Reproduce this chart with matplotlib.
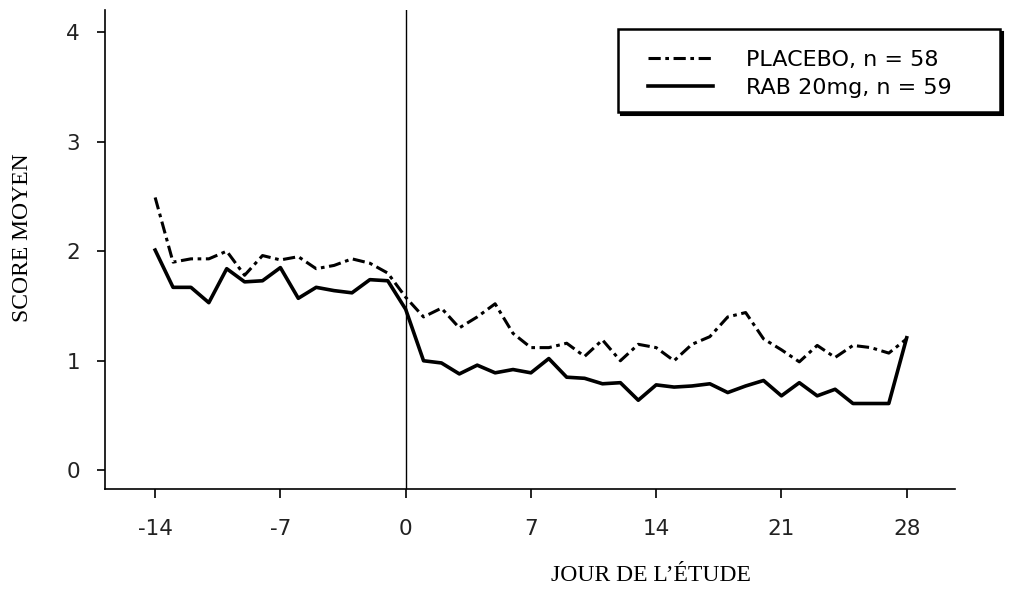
import numpy as np
import matplotlib.pyplot as plt
from matplotlib.patches import Rectangle

days = list(range(-14, 29))
placebo = [2.49, 1.90, 1.93, 1.93, 2.00, 1.78, 1.96, 1.92, 1.95, 1.84, 1.87, 1.93, 1.89, 1.80,
           1.58, 1.40, 1.48, 1.30, 1.40, 1.52, 1.25, 1.12, 1.12, 1.16, 1.04, 1.19, 1.00, 1.15,
           1.12, 1.00, 1.15, 1.22, 1.40, 1.44, 1.20, 1.10, 0.99, 1.14, 1.03, 1.14, 1.12, 1.07, 1.20]
rab = [2.01, 1.67, 1.67, 1.53, 1.84, 1.72, 1.73, 1.85, 1.57, 1.67, 1.64, 1.62, 1.74, 1.73,
       1.47, 1.00, 0.98, 0.88, 0.96, 0.89, 0.92, 0.89, 1.02, 0.85, 0.84, 0.79, 0.80, 0.64,
       0.78, 0.76, 0.77, 0.79, 0.71, 0.77, 0.82, 0.68, 0.80, 0.68, 0.74, 0.61, 0.61, 0.61, 1.21]
xticks = [-14, -7, 0, 7, 14, 21, 28]
yticks = [0, 1, 2, 3, 4]
labels = ['PLACEBO, n = 58', 'RAB 20mg, n = 59']

W, H = 1011, 592
fig = plt.figure(figsize=(W / 100, H / 100), dpi=100)
ax = fig.add_axes([0.1039, 0.174, 0.8407, 0.809])

ax.plot(days, placebo, color='black', lw=2.2, ls=(0, (4, 1.5, 1.2, 1.5)), label=labels[0])
ax.plot(days, rab, color='black', lw=2.6, label=labels[1])
ax.axvline(0, color='black', lw=1.0)

ax.set_xlim(-16.8, 30.7)
ax.set_ylim(-0.17, 4.2)
ax.set_xticks(xticks)
ax.set_xticklabels([str(t) for t in xticks])
ax.set_yticks(yticks)
for s in ['top', 'right']:
    ax.spines[s].set_visible(False)
for s in ['left', 'bottom']:
    ax.spines[s].set_linewidth(1.2)
ax.tick_params(axis='x', length=6.5, width=1.2, pad=15, labelsize=15.5, labelcolor='#222222')
ax.tick_params(axis='y', length=6, width=1.2, pad=12, labelsize=15.5, labelcolor='#222222')
for lab in ax.get_xticklabels() + ax.get_yticklabels():
    lab.set_family('DejaVu Sans')

fig.text(0.022, 0.598, 'SCORE MOYEN', rotation=90, ha='center', va='center',
         family='Liberation Serif', fontsize=17)
fig.text(0.644, 0.028, 'JOUR DE L\u2019\u00c9TUDE', ha='center', va='center',
         family='Liberation Serif', fontsize=17)

# legend box: shadow + frame drawn by hand, legend itself unframed
x0, x1, y0, y1 = 618, 1000, 29, 112
fig.patches.append(Rectangle((x0 / W + 2.5 / W, 1 - y1 / H - 2.5 / H), (x1 - x0) / W, (y1 - y0) / H,
                             transform=fig.transFigure, facecolor='black', edgecolor='black', lw=1.5,
                             zorder=5))
fig.patches.append(Rectangle((x0 / W, 1 - y1 / H), (x1 - x0) / W, (y1 - y0) / H,
                             transform=fig.transFigure, facecolor='white', edgecolor='black', lw=1.8,
                             zorder=6))
leg = ax.legend(loc='upper left', bbox_to_anchor=(648 / W, 1 - 50 / H),
                bbox_transform=fig.transFigure, frameon=False, handlelength=2.93,
                prop={'family': 'DejaVu Sans', 'size': 16},
                borderpad=0, labelspacing=0.37, handletextpad=1.5, borderaxespad=0)
leg.set_zorder(7)
leg.remove()
fig.add_artist(leg)

fig.savefig('out.png', dpi=100)
